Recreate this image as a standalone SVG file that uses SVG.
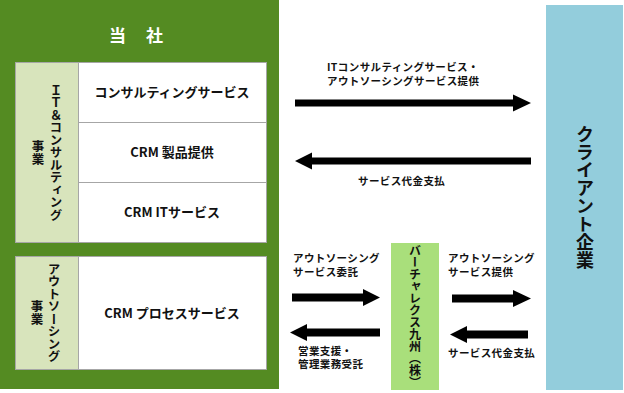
<svg xmlns="http://www.w3.org/2000/svg" width="624" height="393" viewBox="0 0 624 393">
<style>
text{font-family:"Noto Sans CJK JP","Noto Sans",sans-serif;font-weight:bold;fill:#111}
.v{writing-mode:vertical-rl;text-anchor:middle}
.cell{fill:#fff;stroke:#a6a6a6;stroke-width:1}
.cat{fill:#d8e4bc;stroke:#a6a6a6;stroke-width:1}
.ct{font-size:13px;text-anchor:middle}
.lbl{font-size:10.5px;letter-spacing:0.4px}
.arr{fill:#000}
</style>
<rect width="624" height="393" fill="#fff"/>
<g id="company">
<rect x="0" y="0" width="279" height="389" fill="#548b22"/>
<text x="136" y="42" style="font-size:17px;fill:#fff;text-anchor:middle;word-spacing:16px">当 社</text>
</g>
<g id="it-consulting">
<rect class="cat" x="15.5" y="62.5" width="63" height="180"/>
<text class="v" x="56" y="152.5" style="font-size:12.5px">ＩＴ＆コンサルティング</text>
<text class="v" x="38" y="152.5" style="font-size:12.5px">事業</text>
</g>
<g id="consulting-service">
<rect class="cell" x="78.5" y="62.5" width="188" height="60"/>
<text class="ct" x="172" y="97">コンサルティングサービス</text>
</g>
<g id="crm-product">
<rect class="cell" x="78.5" y="122.5" width="188" height="60"/>
<text class="ct" x="172" y="157">CRM 製品提供</text>
</g>
<g id="crm-it">
<rect class="cell" x="78.5" y="182.5" width="188" height="60"/>
<text class="ct" x="172" y="217">CRM ITサービス</text>
</g>
<g id="outsourcing">
<rect class="cat" x="15.5" y="256.5" width="63" height="113"/>
<text class="v" x="54" y="312.5" style="font-size:12.5px">アウトソーシング</text>
<text class="v" x="37" y="312.5" style="font-size:12.5px">事業</text>
</g>
<g id="crm-process">
<rect class="cell" x="78.5" y="256.5" width="188" height="113"/>
<text class="ct" x="172" y="318">CRM プロセスサービス</text>
</g>
<g id="virtualex-kyushu">
<rect x="391" y="243" width="48" height="147" fill="#a9df7b"/>
<text class="v" x="415" y="316.5" style="font-size:12px">バーチャレクス九州（株）</text>
</g>
<g id="client">
<rect x="546" y="5" width="77" height="385" fill="#93cddc"/>
<text class="v" x="585" y="197.5" style="font-size:18px">クライアント企業</text>
</g>
<g id="connectors">
<polygon class="arr" points="295,99.5 513,99.5 513,94.5 531,103 513,111.5 513,106.5 295,106.5"/>
<polygon class="arr" points="531,157.5 312,157.5 312,152.5 295,161 312,169.5 312,164.5 531,164.5"/>
<polygon class="arr" points="292,293.5 363,293.5 363,289 380,297.5 363,306 363,301.5 292,301.5"/>
<polygon class="arr" points="380,328.5 307,328.5 307,324 290,332.5 307,341 307,336.5 380,336.5"/>
<polygon class="arr" points="452,294.5 513,294.5 513,290 531,298.5 513,307 513,302.5 452,302.5"/>
<polygon class="arr" points="528,330.5 467,330.5 467,326 450,334.5 467,343 467,338.5 528,338.5"/>
<text class="lbl" x="327" y="70.5">ITコンサルティングサービス・<tspan x="327" dy="14">アウトソーシングサービス提供</tspan></text>
<text class="lbl" x="358" y="185">サービス代金支払</text>
<text class="lbl" x="293" y="261.5">アウトソーシング<tspan x="293" dy="14">サービス委託</tspan></text>
<text class="lbl" x="298" y="354.5">営業支援・<tspan x="298" dy="13.5">管理業務受託</tspan></text>
<text class="lbl" x="448" y="261.5">アウトソーシング<tspan x="448" dy="14">サービス提供</tspan></text>
<text class="lbl" x="448" y="357">サービス代金支払</text>
</g>
</svg>
